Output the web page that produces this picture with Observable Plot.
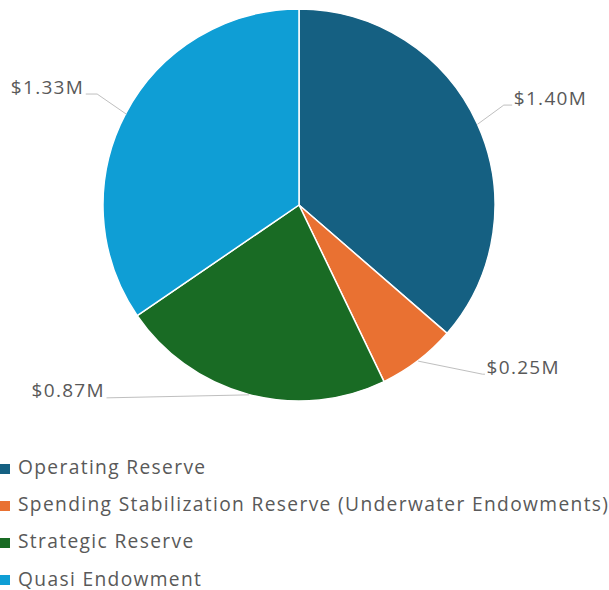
<!DOCTYPE html>
<html>
<head>
<meta charset="utf-8">
<script src="https://cdn.jsdelivr.net/npm/d3@7"></script>
<script src="https://cdn.jsdelivr.net/npm/@observablehq/plot@0.6"></script>
<style>
  html, body { margin: 0; padding: 0; background: #fff; }
  body { width: 609px; font-family: "Open Sans", sans-serif; color: #595959; overflow: hidden; }
  #legend { margin-top: 10px; padding-left: 0px; }
  .item { display: flex; align-items: center; height: 37.2px; font-size: 19.2px; letter-spacing: 1.35px; white-space: nowrap; }
  .item span { line-height: 1; }
  .sw { width: 10px; height: 10px; margin-right: 8px; flex: none; position: relative; top: 2px; }
</style>
</head>
<body>
<div id="chart"></div>
<div id="legend"></div>
<script>
const categories = ["Operating Reserve", "Spending Stabilization Reserve (Underwater Endowments)", "Strategic Reserve", "Quasi Endowment"];
const values = [1.40, 0.25, 0.87, 1.33];
const valueLabels = ["$1.40M", "$0.25M", "$0.87M", "$1.33M"];
const colors = ["#156082", "#E97132", "#196B24", "#0F9ED5"];

// layout constants (pixels)
const W = 609, H = 438, CX = 299, CY = 205, R = 196;
// leader line elbow offsets relative to the slice edge point, horizontal tail length, text side
const labelLayout = [
  {ex: 26, ey: -19, tail: 8, side: "right"},
  {ex: 64, ey: 13, tail: 2, side: "right"},
  {ex: -142, ey: 3, tail: 0, side: "left"},
  {ex: -29, ey: -20, tail: 11, side: "left"}
];

const data = categories.map((c, i) => ({category: c, value: values[i], label: valueLabels[i], color: colors[i]}));
const arcs = d3.pie().sort(null).value(d => d.value)(data);

const leaders = [];
const labels = [];
arcs.forEach((a, i) => {
  const mid = (a.startAngle + a.endAngle) / 2;
  const px = CX + R * Math.sin(mid), py = CY - R * Math.cos(mid);
  const L = labelLayout[i];
  const ex = px + L.ex, ey = py + L.ey;
  const dir = L.side === "right" ? 1 : -1;
  const tx = ex + dir * L.tail;
  leaders.push({id: i, x: px, y: py}, {id: i, x: ex, y: ey}, {id: i, x: tx, y: ey});
  labels.push({x: tx + dir * 2, y: ey - 6.5, text: a.data.label, side: L.side});
});

const pieMark = (index, scales) => {
  const g = d3.create("svg:g").attr("transform", `translate(${scales.x(CX)},${scales.y(CY)})`);
  const arcGen = d3.arc().innerRadius(0).outerRadius(R);
  g.selectAll("path").data(arcs).join("path")
    .attr("d", arcGen)
    .attr("fill", d => d.data.color)
    .attr("stroke", "#fff")
    .attr("stroke-width", 1.5)
    .attr("stroke-linejoin", "round");
  return g.node();
};

const textOpts = {x: "x", y: "y", text: "text", fontSize: 19, fill: "#595959", lineAnchor: "middle"};
const chart = Plot.plot({
  width: W, height: H, margin: 0,
  x: {domain: [0, W], range: [0, W], axis: null},
  y: {domain: [0, H], range: [0, H], axis: null},
  style: {fontFamily: "'Open Sans', sans-serif", overflow: "visible"},
  marks: [
    pieMark,
    Plot.line(leaders, {x: "x", y: "y", z: "id", stroke: "#BFBFBF", strokeWidth: 1}),
    Plot.text(labels.filter(d => d.side === "right"), {...textOpts, textAnchor: "start"}),
    Plot.text(labels.filter(d => d.side === "left"), {...textOpts, textAnchor: "end"})
  ]
});
chart.querySelectorAll("text").forEach(t => t.style.letterSpacing = "1.3px");
document.getElementById("chart").appendChild(chart);

const legend = d3.select("#legend");
data.forEach(d => {
  const it = legend.append("div").attr("class", "item");
  it.append("div").attr("class", "sw").style("background", d.color);
  it.append("span").text(d.category);
});
</script>
</body>
</html>
